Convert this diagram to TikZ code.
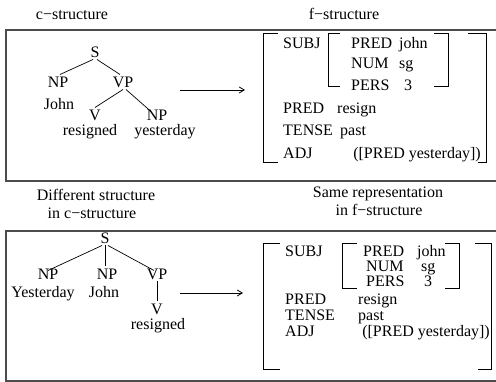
\documentclass[tikz,border=0pt]{standalone}
\usepackage{fontspec}
\setmainfont{Liberation Serif}
\usetikzlibrary{arrows.meta}
\begin{document}
\begin{tikzpicture}[x=1pt,y=-1pt,
  lbl/.style={font=\fontsize{16}{19}\selectfont, inner sep=0pt, text height=10.6pt, text depth=0pt},
  tnode/.style={lbl, inner ysep=2pt},
  fkey/.style={lbl, anchor=west},
  fkeyb/.style={fkey},
  tree/.style={line width=0.7pt},
  frame/.style={line width=1.1pt, draw=black!70},
  brk/.style={line width=0.8pt},
  arr/.style={line width=0.8pt, -{Straight Barb[length=5pt,width=6pt]}}]
\useasboundingbox (0,0) rectangle (496,382);

% frames
\draw[frame] (497,30) -- (6,30) -- (6,181) -- (497,181);
\draw[frame] (497,231) -- (6,231) -- (6,381) -- (497,381);

% headings
\node[lbl] (hc) at (72,14) {c−structure};
\node[lbl] (hf) at (344,14) {f−structure};
\node[lbl] (d1) at (96,195) {Different structure};
\node[lbl] (d2) at (92,213) {in c−structure};
\node[lbl] (s1) at (378,192) {Same representation};
\node[lbl] (s2) at (379,210) {in f−structure};

% ---------- top tree ----------
\node[tnode] (S1) at (95,52) {S};
\node[tnode] (NP1) at (58,82) {NP};
\node[tnode] (VP1) at (123,82) {VP};
\node[tnode] (John1) at (59,104) {John};
\node[tnode] (V1) at (95,115) {V};
\node[tnode] (NP2) at (157,115) {NP};
\node[tnode] (res1) at (90,130) {resigned};
\node[tnode] (yes1) at (165,130) {yesterday};
\draw[tree] ([xshift=-2pt]S1.south) -- ([xshift=2pt]NP1.north);
\draw[tree] ([xshift=2pt]S1.south) -- ([xshift=-3pt]VP1.north);
\draw[tree] (VP1.south) -- (V1.north);
\draw[tree] ([xshift=3pt]VP1.south) -- ([xshift=-6pt,yshift=-4pt]NP2.north);

\coordinate (a1s) at (180,90);
\coordinate (a1e) at (245,90);
\draw[arr] (a1s) -- (a1e);

% ---------- top f-structure ----------
\draw[brk] (278,33) -- (263,33) -- (263,162) -- (278,162);
\draw[brk] (468,33) -- (486,33) -- (486,162) -- (478,162);
\draw[brk] (340,33) -- (328,33) -- (328,86) -- (340,86);
\draw[brk] (434,33) -- (448,33) -- (448,86) -- (434,86);
\node[fkey] (subj1) at (283,43) {SUBJ};
\node[fkey] (ipred1) at (351,43) {PRED};
\node[fkey] (john1) at (399,43) {john};
\node[fkey] (num1) at (351,63) {NUM};
\node[fkey] (sg1) at (399,63) {sg};
\node[fkey] (pers1) at (351,85) {PERS};
\node[fkey] (three1) at (404,85) {3};
\node[fkey] (pred1) at (283,108) {PRED};
\node[fkey] (resign1) at (337,108) {resign};
\node[fkey] (tense1) at (283,130) {TENSE};
\node[fkey] (past1) at (340,130) {past};
\node[fkey] (adj1) at (283,153) {ADJ};
\node[fkey, anchor=east] (adjv1) at (481,153) {([PRED yesterday])};

% ---------- bottom tree ----------
\node[tnode] (S2) at (105,238) {S};
\node[tnode] (NP3) at (48,274) {NP};
\node[tnode] (NP4) at (107,274) {NP};
\node[tnode] (VP2) at (157,274) {VP};
\node[tnode] (Yest) at (43,292) {Yesterday};
\node[tnode] (John2) at (104,292) {John};
\node[tnode] (V2) at (157,309) {V};
\node[tnode] (res2) at (158,324) {resigned};
\draw[tree] ([xshift=-3pt]S2.south) -- ([yshift=-4pt]NP3.north);
\draw[tree] (S2.south) -- (NP4.north -| S2.south);
\draw[tree] ([xshift=3pt]S2.south) -- ([xshift=-3pt,yshift=-4pt]VP2.north);
\draw[tree] (VP2.south) -- (V2.north);

\coordinate (a2s) at (180,293);
\coordinate (a2e) at (243,293);
\draw[arr] (a2s) -- (a2e);

% ---------- bottom f-structure ----------
\draw[brk] (280,243) -- (263,243) -- (263,369) -- (280,369);
\draw[brk] (475,243) -- (491,243) -- (491,369) -- (478,369);
\draw[brk] (357,243) -- (342,243) -- (342,288) -- (357,288);
\draw[brk] (445,243) -- (459,243) -- (459,288) -- (445,288);
\node[fkeyb] (subj2) at (285,251) {SUBJ};
\node[fkeyb] (ipred2) at (363,251) {PRED};
\node[fkeyb] (john2) at (417,251) {john};
\node[fkeyb] (num2) at (366,266) {NUM};
\node[fkeyb] (sg2) at (421,266) {sg};
\node[fkeyb] (pers2) at (366,281) {PERS};
\node[fkeyb] (three2) at (424,281) {3};
\node[fkeyb] (pred2) at (285,299) {PRED};
\node[fkeyb] (resign2) at (358,299) {resign};
\node[fkeyb] (tense2) at (285,315) {TENSE};
\node[fkeyb] (past2) at (358,315) {past};
\node[fkeyb] (adj2) at (285,331) {ADJ};
\node[fkeyb, anchor=east] (adjv2) at (490,331) {([PRED yesterday])};
\end{tikzpicture}
\end{document}
